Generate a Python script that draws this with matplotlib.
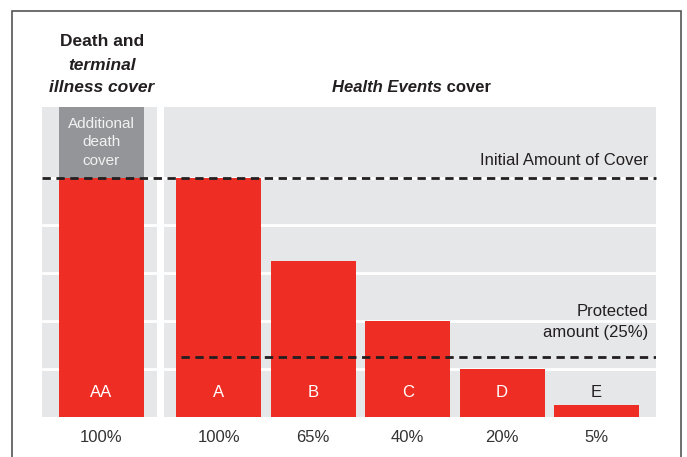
import matplotlib
matplotlib.use("Agg")
import matplotlib.pyplot as plt
import matplotlib.transforms as mtransforms
from matplotlib.patches import Rectangle

plt.rcParams['font.family'] = ['Liberation Sans', 'DejaVu Sans']

# data
death_labels = ['AA']
death_values = [1.00]
death_ticks = ['100%']
extra_death = 0.295          # grey "additional death cover" on top of AA

health_labels = ['A', 'B', 'C', 'D', 'E']
health_values = [1.00, 0.65, 0.40, 0.20, 0.05]
health_ticks = ['100%', '65%', '40%', '20%', '5%']

initial_cover = 1.00
protected = 0.25
grid_levels = [0.2, 0.4, 0.6, 0.8, 1.0]

RED = '#ee2e24'
PANEL = '#e6e7e8'
DARKGREY = '#939598'
INK = '#231f20'
TICK = '#333333'

W, H = 687, 457
fig = plt.figure(figsize=(W / 100, H / 100), dpi=100)
fig.patch.set_facecolor('white')


def px(x0, y0, x1, y1):
    # pixel box (top-left origin) -> figure fraction rect
    return [x0 / W, 1 - y1 / H, (x1 - x0) / W, (y1 - y0) / H]


ax_l = fig.add_axes(px(42, 107, 157, 416.5))
ax_r = fig.add_axes(px(164, 107, 656, 416.5))

ymax = initial_cover + extra_death
for ax in (ax_l, ax_r):
    ax.set_facecolor(PANEL)
    ax.set_ylim(0, ymax)
    for s in ax.spines.values():
        s.set_visible(False)
    ax.set_yticks([])
    for g in grid_levels:
        ax.axhline(g, color='white', lw=2, zorder=1)
    ax.tick_params(axis='x', length=0, pad=9.5, labelsize=12, labelcolor=TICK)

ax_l.set_xlim(-0.63, 0.59)
ax_r.set_xlim(-0.58, 4.63)

# left panel: death and terminal illness
xl = range(len(death_values))
ax_l.bar(xl, [extra_death], bottom=death_values, width=0.9, color=DARKGREY, zorder=2)
ax_l.bar(xl, death_values, width=0.9, color=RED, zorder=2)
ax_l.set_xticks(list(xl), death_ticks)
for x, lab in zip(xl, death_labels):
    ax_l.text(x, 0.10, lab, ha='center', va='center', color='white', fontsize=12, zorder=3)
ax_l.text(0, initial_cover + extra_death / 2, 'Additional\ndeath\ncover', ha='center', va='center',
          color='#f2f2f2', fontsize=11, linespacing=1.4, zorder=3)

# right panel: health events
xr = range(len(health_values))
ax_r.bar(xr, health_values, width=0.9, color=RED, zorder=2)
ax_r.set_xticks(list(xr), health_ticks)
for x, lab, v in zip(xr, health_labels, health_values):
    c = 'white' if v > 0.15 else INK
    ax_r.text(x, 0.10, lab, ha='center', va='center', color=c, fontsize=12, zorder=3)

# dashed reference lines
span = mtransforms.blended_transform_factory(fig.transFigure, ax_r.transData)
ax_r.plot([42 / W, 656 / W], [initial_cover, initial_cover], transform=span, clip_on=False,
          color=INK, lw=2, dashes=(3, 2), zorder=4)
ax_r.axhline(protected, xmin=(181 - 164) / 492, xmax=1, color=INK, lw=2, dashes=(3, 2), zorder=4)

ax_r.text(0.985, initial_cover + 0.07, 'Initial Amount of Cover', transform=ax_r.get_yaxis_transform(),
          ha='right', va='center', color=INK, fontsize=12, zorder=3)
ax_r.text(0.985, protected + 0.145, 'Protected\namount (25%)', transform=ax_r.get_yaxis_transform(),
          ha='right', va='center', color=INK, fontsize=12, linespacing=1.5, zorder=3)

# headings
fig.text(102 / W, 1 - 41 / H, 'Death and', ha='center', va='center', fontsize=12.5, fontweight='bold', color=INK)
fig.text(102 / W, 1 - 65 / H, 'terminal', ha='center', va='center', fontsize=12.5, fontweight='bold',
         style='italic', color=INK)
fig.text(102 / W, 1 - 88 / H, 'illness cover', ha='center', va='center', fontsize=12.5, fontweight='bold',
         style='italic', color=INK)
t1 = fig.text(442 / W, 1 - 88 / H, 'Health Events', ha='right', va='center', fontsize=12, fontweight='bold',
              style='italic', color=INK)
ax_r.annotate(' cover', xy=(1, 0), xycoords=t1, ha='left', va='bottom', fontsize=12,
              fontweight='bold', color=INK, annotation_clip=False)

# outer frame
fig.add_artist(Rectangle((12 / W, -0.05), (681 - 12) / W, 1.05 - 11 / H, transform=fig.transFigure,
                         fill=False, edgecolor='#555555', lw=1.2))

fig.savefig('out.png', dpi=100)
